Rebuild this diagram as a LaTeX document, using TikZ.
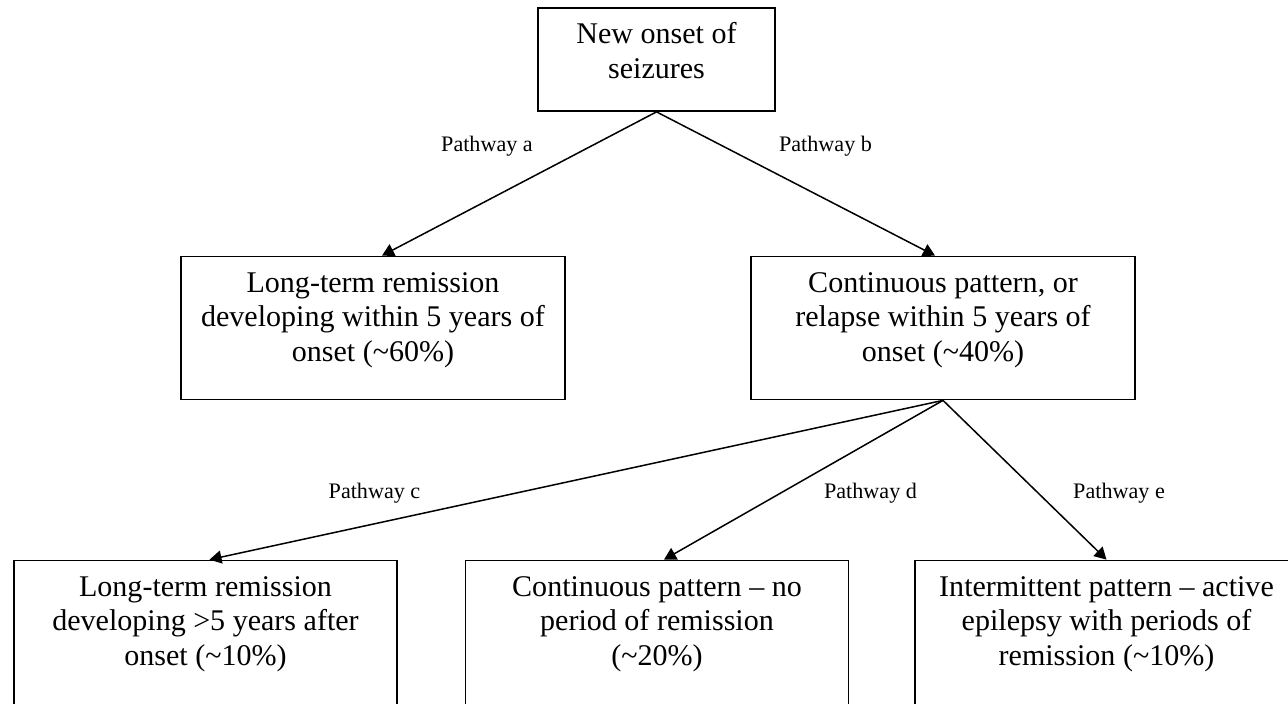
\documentclass[tikz,border=0pt]{standalone}
\usepackage{fontspec}
\setmainfont{Liberation Serif}
\usetikzlibrary{arrows.meta}
\newcommand{\boxtext}[3]{\parbox[c][#1][t]{#2}{\centering\rule{0pt}{0.71cm}#3}}

\begin{document}
\begin{tikzpicture}[>={Triangle[length=0.24cm,width=0.26cm]},
    box/.style={draw, line width=0.035cm, inner sep=0pt, font=\fontsize{17.1pt}{19.7pt}\selectfont},
    link/.style={->, line width=0.03cm},
    lbl/.style={font=\fontsize{12.6pt}{15pt}\selectfont, inner sep=0pt}]
            \useasboundingbox (0, 0) rectangle (25.76, -14.06);
            \clip (0, 0) rectangle (25.76, -14.06);
            % boxes
            \node[box] (onset) at (13.13, -1.19) {\boxtext{2.06cm}{4.74cm}{New onset of\\seizures}};
            \node[box] (remA) at (7.46, -6.56) {\boxtext{2.86cm}{7.68cm}{Long-term remission\\developing within 5 years of\\onset (\textasciitilde60\%)}};
            \node[box] (cont) at (18.86, -6.56) {\boxtext{2.86cm}{7.68cm}{Continuous pattern, or\\relapse within 5 years of\\onset (\textasciitilde40\%)}};
            \node[box] (remC) at (4.11, -12.71) {\boxtext{3.0cm}{7.66cm}{Long-term remission\\developing >5 years after\\onset (\textasciitilde10\%)}};
            \node[box] (contD) at (13.14, -12.71) {\boxtext{3.0cm}{7.66cm}{Continuous pattern -- no\\period of remission\\(\textasciitilde20\%)}};
            \node[box] (interE) at (22.13, -12.71) {\boxtext{3.0cm}{7.66cm}{Intermittent pattern -- active\\epilepsy with periods of\\remission (\textasciitilde10\%)}};
            % pathways
            \draw[link] (onset.south) -- ([xshift=0.18cm]remA.north);
            \draw[link] (onset.south) -- ([xshift=-0.16cm]cont.north);
            \draw[link] (cont.south) -- ([xshift=0.08cm]remC.north);
            \draw[link] (cont.south) -- ([xshift=0.14cm]contD.north);
            \draw[link] (cont.south) -- (interE.north);
            \node[lbl] (pa) at (9.74, -2.93) {Pathway a};
            \node[lbl] (pb) at (16.51, -2.93) {Pathway b};
            \node[lbl] (pc) at (7.49, -9.86) {Pathway c};
            \node[lbl] (pd) at (17.41, -9.86) {Pathway d};
            \node[lbl] (pe) at (22.38, -9.86) {Pathway e};
        \end{tikzpicture}
\end{document}
